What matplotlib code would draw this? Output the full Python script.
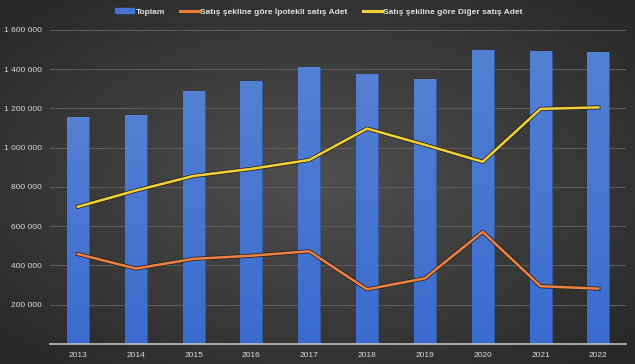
import numpy as np
import matplotlib
matplotlib.use("Agg")
import matplotlib.pyplot as plt
import matplotlib.patheffects as pe
from matplotlib.colors import LinearSegmentedColormap
from matplotlib.patches import Patch
from matplotlib.lines import Line2D

plt.rcParams["font.family"] = ["Liberation Sans", "DejaVu Sans"]

years = ["2013", "2014", "2015", "2016", "2017", "2018", "2019", "2020", "2021", "2022"]
toplam = [1157190, 1165381, 1289320, 1341453, 1409314, 1375398, 1348729, 1499316, 1491856, 1485786]
ipotekli = [458190, 384060, 433438, 449508, 472226, 278383, 334232, 571470, 294310, 282000]
diger = [699000, 781321, 855882, 891945, 937088, 1097015, 1014497, 927846, 1197546, 1205000]
yticks = [200000, 400000, 600000, 800000, 1000000, 1200000, 1400000, 1600000]

fig = plt.figure(figsize=(6.35, 3.64), dpi=100)

# radial gradient background
bg = fig.add_axes([0, 0, 1, 1], zorder=0)
yy, xx = np.mgrid[-1:1:364j, -1:1:635j]
r = np.sqrt(xx**2 + yy**2) / np.sqrt(2)
img = 0.31 - 0.16 * r
bg.imshow(np.dstack([img, img, img]), aspect="auto", extent=[0, 1, 0, 1])
bg.axis("off")

ax = fig.add_axes([0.079, 0.055, 0.907, 0.863], zorder=1)
ax.patch.set_alpha(0)
x = np.arange(len(years))
w = 0.38

# bars with a soft vertical gradient
bar_cmap = LinearSegmentedColormap.from_list("bar", ["#3a6bcf", "#5480d3"])
grad = np.linspace(0, 1, 100).reshape(-1, 1)
bars = ax.bar(x, toplam, width=w, color="#3e6fce", edgecolor="#2f5aa8", linewidth=0.5, zorder=2)
for b in bars:
    im = ax.imshow(grad, cmap=bar_cmap, aspect="auto", origin="lower", zorder=2,
                   extent=[b.get_x(), b.get_x() + b.get_width(), 0, b.get_height()])
    im.set_clip_path(b)

outline = [pe.Stroke(linewidth=2.9, foreground="#2a2216"), pe.Normal()]
ax.plot(x, ipotekli, color="#ec8246", linewidth=1.8, zorder=3, path_effects=outline)
ax.plot(x, diger, color="#f2d23a", linewidth=1.8, zorder=3, path_effects=outline)

ax.set_xlim(-0.48, 9.48)
ax.set_ylim(0, 1600000)
ax.set_yticks(yticks)
ax.set_yticklabels([f"{v:,}".replace(",", " ") for v in yticks])
ax.set_xticks(x)
ax.set_xticklabels(years)
ax.grid(axis="y", color="#5c5c5c", linewidth=0.8, zorder=0)
ax.set_axisbelow(True)
for s in ["top", "right", "left"]:
    ax.spines[s].set_visible(False)
ax.spines["bottom"].set_color("#bfbfbf")
ax.spines["bottom"].set_linewidth(1.2)
ax.spines["bottom"].set_zorder(4)
ax.tick_params(axis="both", length=0, colors="#d9d9d9", labelsize=6)
ax.tick_params(axis="x", pad=6)
ax.tick_params(axis="y", pad=6)

handles = [
    Patch(facecolor="#4574d2", edgecolor="#4574d2"),
    Line2D([0], [0], color="#ed7d31", linewidth=2.2),
    Line2D([0], [0], color="#f2d23a", linewidth=2.2),
]
labels = ["Toplam", "Satış şekline göre İpotekli satış Adet", "Satış şekline göre Diğer satış Adet"]
leg = fig.legend(handles, labels, loc="center", bbox_to_anchor=(0.502, 0.968), ncol=3,
                 frameon=False, fontsize=6.0, handlelength=2.3, handleheight=0.5,
                 handletextpad=0.15, columnspacing=1.8)
for t in leg.get_texts():
    t.set_color("#e0e0e0")
    t.set_fontweight("bold")

fig.savefig("out.png", dpi=100)
